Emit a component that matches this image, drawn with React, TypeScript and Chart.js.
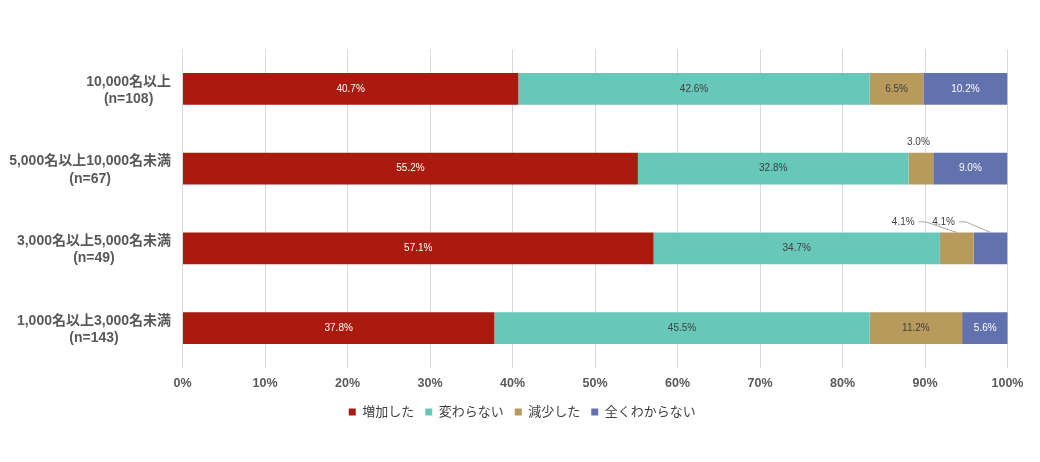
import React, { useEffect, useRef } from "react";
import { Chart, registerables } from "chart.js";

Chart.register(...registerables);

// Categories (top to bottom) and series values in %
const categories: string[][] = [
  ["10,000名以上", "(n=108)"],
  ["5,000名以上10,000名未満", "(n=67)"],
  ["3,000名以上5,000名未満", "(n=49)"],
  ["1,000名以上3,000名未満", "(n=143)"],
];
const seriesNames = ["増加した", "変わらない", "減少した", "全くわからない"];
const increased = [40.7, 55.2, 57.1, 37.8];
const unchanged = [42.6, 32.8, 34.7, 45.5];
const decreased = [6.5, 3.0, 4.1, 11.2];
const unknown = [10.2, 9.0, 4.1, 5.6];
const xTicks = [0, 10, 20, 30, 40, 50, 60, 70, 80, 90, 100];

const COLORS = ["#AA1A0F", "#67C7B9", "#B89A5C", "#6272AE"];
const LABEL_COLORS = ["#ffffff", "#404040", "#404040", "#ffffff"];
const FONT = "'Liberation Sans', 'Noto Sans CJK JP', Arial, sans-serif";

// labels that Excel pushed outside the bar (datasetIndex-index -> offset from segment centre)
const callouts: Record<string, { dx: number; dy: number; leader: boolean }> = {
  "2-1": { dx: -2.5, dy: -26.5, leader: false },
  "2-2": { dx: -53.5, dy: -26.5, leader: true },
  "3-2": { dx: -47, dy: -26.5, leader: true },
};

const valueLabels = {
  id: "valueLabels",
  afterDatasetsDraw(chart: any) {
    const { ctx } = chart;
    ctx.save();
    ctx.font = `10px ${FONT}`;
    ctx.textAlign = "center";
    ctx.textBaseline = "middle";
    chart.data.datasets.forEach((ds: any, di: number) => {
      const meta = chart.getDatasetMeta(di);
      meta.data.forEach((el: any, i: number) => {
        const { x, y, base, height } = el.getProps(["x", "y", "base", "height"], true);
        const cx = (x + base) / 2;
        const text = `${Number(ds.data[i]).toFixed(1)}%`;
        const c = callouts[`${di}-${i}`];
        if (c) {
          const lx = cx + c.dx;
          const ly = y + c.dy;
          ctx.fillStyle = "#404040";
          ctx.fillText(text, lx, ly);
          if (c.leader) {
            const w = ctx.measureText(text).width;
            ctx.strokeStyle = "#a6a6a6";
            ctx.lineWidth = 1;
            ctx.beginPath();
            ctx.moveTo(lx + w / 2 + 4, ly);
            ctx.lineTo(lx + w / 2 + 11, ly);
            ctx.lineTo(cx, y - height / 2);
            ctx.stroke();
          }
        } else {
          ctx.fillStyle = LABEL_COLORS[di];
          ctx.fillText(text, cx, y);
        }
      });
    });
    ctx.restore();
  },
};

// category labels: right-aligned block, lines centred on each other (like Excel)
const categoryLabels = {
  id: "categoryLabels",
  afterDraw(chart: any) {
    const { ctx, chartArea } = chart;
    const yScale = chart.scales.y;
    ctx.save();
    ctx.font = `bold 14px ${FONT}`;
    ctx.fillStyle = "#595959";
    ctx.textAlign = "center";
    ctx.textBaseline = "middle";
    categories.forEach((lines, i) => {
      const cy = yScale.getPixelForValue(i) + 1.5;
      const maxW = Math.max(...lines.map((l) => ctx.measureText(l).width));
      const cx = chartArea.left - 11.5 - maxW / 2;
      const lh = 17.3;
      lines.forEach((l, k) => {
        ctx.fillText(l, cx, cy + (k - (lines.length - 1) / 2) * lh);
      });
    });
    ctx.restore();
  },
};

export default function App() {
  const canvasRef = useRef<HTMLCanvasElement | null>(null);

  useEffect(() => {
    const ctx = canvasRef.current?.getContext("2d");
    if (!ctx) return;
    const series = [increased, unchanged, decreased, unknown];
    const chart = new Chart(ctx, {
      type: "bar",
      data: {
        labels: categories,
        datasets: series.map((d, k) => ({
          label: seriesNames[k],
          data: d,
          backgroundColor: COLORS[k],
          borderWidth: 0,
          categoryPercentage: 1,
          barPercentage: 0.4,
        })),
      },
      options: {
        indexAxis: "y",
        responsive: true,
        maintainAspectRatio: false,
        animation: false,
        layout: { padding: { top: 49, right: 32.5, left: 37, bottom: 33.5 } },
        scales: {
          x: {
            stacked: true,
            min: 0,
            max: 100,
            afterBuildTicks: (scale: any) => {
              scale.ticks = xTicks.map((v) => ({ value: v }));
            },
            afterFit: (scale: any) => {
              scale.height = 26.5;
            },
            grid: { color: "#d9d9d9", drawTicks: false },
            border: { display: false },
            ticks: {
              padding: 8.5,
              color: "#595959",
              font: { family: FONT, size: 12.5, weight: "bold" },
              callback: (v: any) => `${v}%`,
            },
          },
          y: {
            stacked: true,
            grid: { display: false },
            border: { display: false },
            afterFit: (scale: any) => {
              scale.width = 145.5;
            },
            ticks: { display: false },
          },
        },
        plugins: {
          legend: {
            position: "bottom",
            labels: {
              boxWidth: 7,
              boxHeight: 7,
              padding: 11,
              color: "#404040",
              font: { family: FONT, size: 13 },
            },
          },
          tooltip: { enabled: false },
        },
      } as any,
      plugins: [valueLabels, categoryLabels],
    });
    return () => {
      chart.destroy();
    };
  }, []);

  return (
    <div
      style={{
        position: "fixed",
        left: 0,
        top: 0,
        width: 1040,
        height: 462,
        background: "#ffffff",
      }}
    >
      <canvas ref={canvasRef} />
    </div>
  );
}
